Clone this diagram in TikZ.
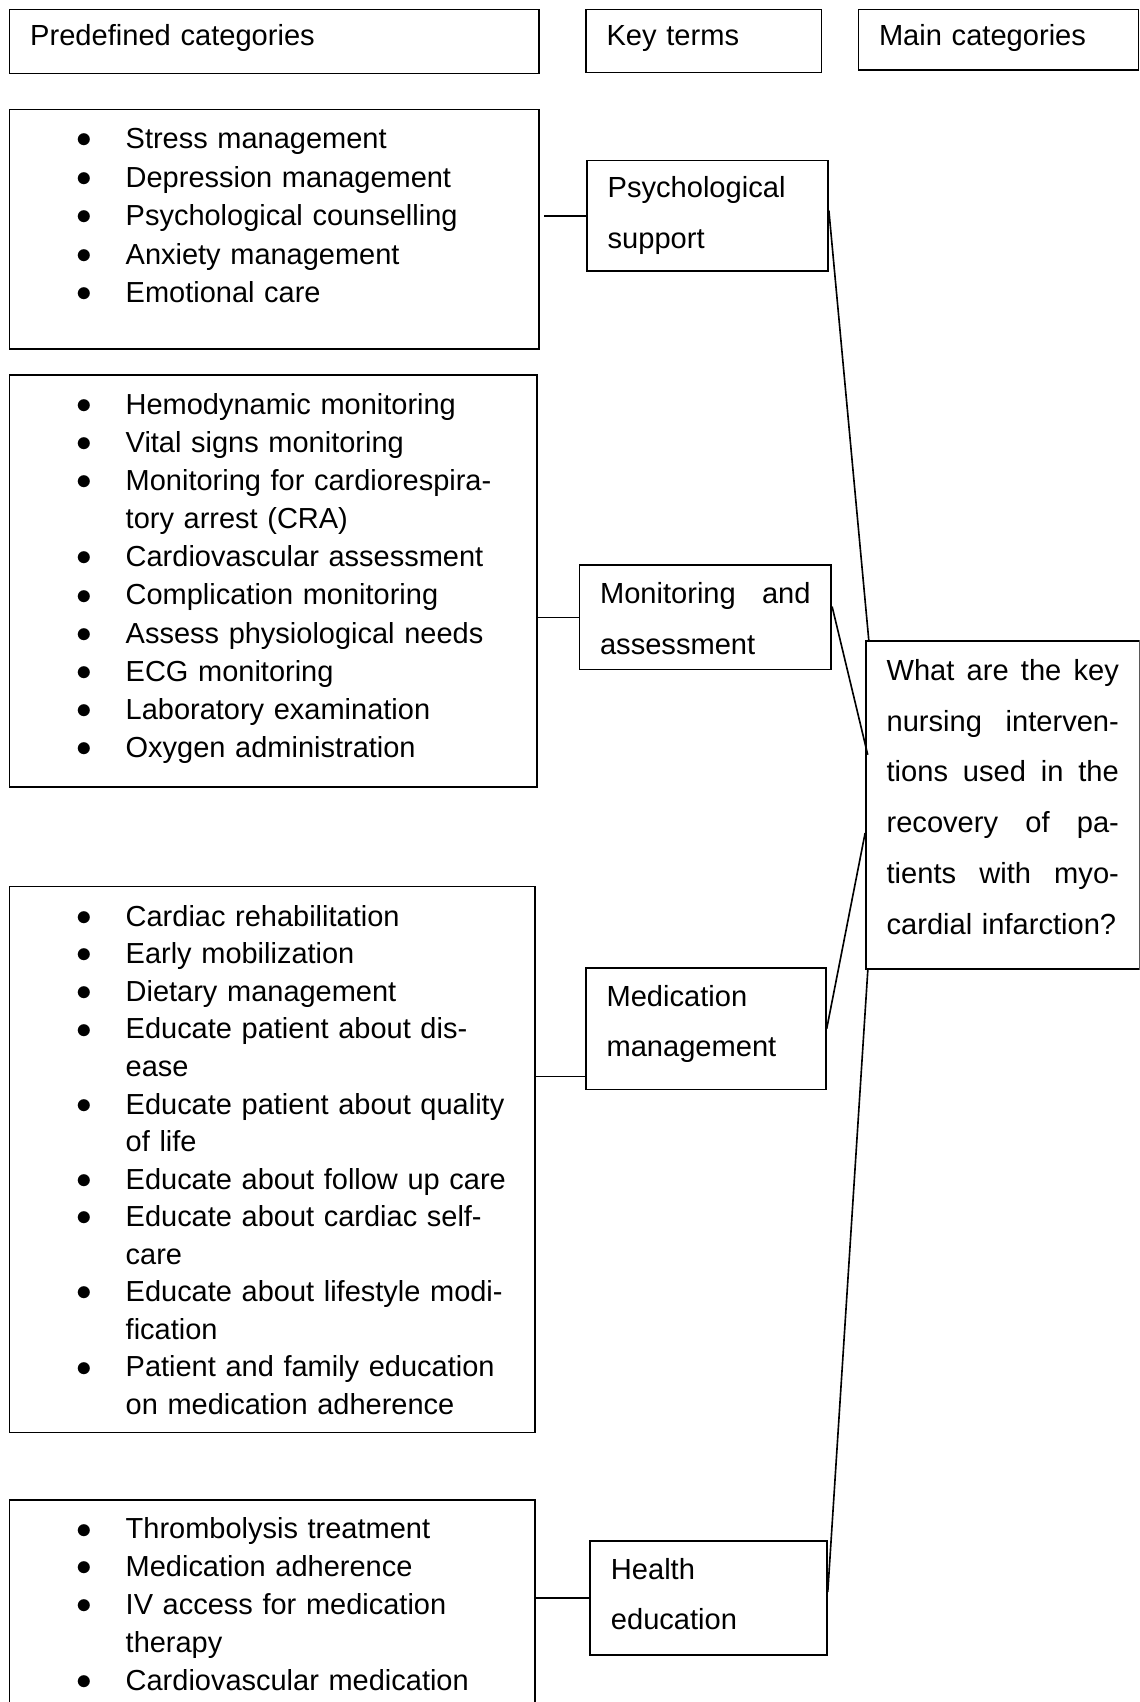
\documentclass[tikz,border=0pt]{standalone}
\usepackage{fontspec}
\setmainfont{Liberation Sans}
\tikzset{term node/.style={draw,line width=0.8pt,anchor=north west,inner xsep=9.5pt,inner ysep=0pt,align=left,font=\fontsize{13.4}{23.4}\selectfont},
         list node/.style={draw,line width=0.8pt,anchor=north west,inner sep=0pt,align=left,font=\fontsize{13.35}{#1}\selectfont},
         link/.style={draw,line width=0.75pt} }
\newcommand{\bul}{\hspace*{30.7pt}\makebox[22.8pt][l]{\raisebox{0.4pt}{$\bullet$}}}
\newcommand{\cont}{\hspace*{53.5pt}}

\begin{document}
\begin{tikzpicture}[x=0.5pt,y=-0.5pt]
  \useasboundingbox (0,0) rectangle (1050,1568);
  \clip (0,0) rectangle (1050,1568);

  % column heads
  \node[term node, text width=225pt, text height=16.75pt, text depth=12.75pt] (pre) at (8,8) {Predefined categories};
  \node[term node, text width=89.5pt, text height=16.75pt, text depth=12.25pt] (key) at (539,8) {Key terms};
  \node[term node, text width=110pt, text height=16.75pt, text depth=11.25pt] (maincat) at (790,8) {Main categories};

  % predefined categories
  \node[list node=17.75pt, text width=244pt, text height=18pt, text depth=92.5pt] (psylist) at (8,100) {
    \bul Stress management\\
    \bul Depression management\\
    \bul Psychological counselling\\
    \bul Anxiety management\\
    \bul Emotional care};
  \node[list node=17.55pt, text width=243pt, text height=18pt, text depth=171.5pt] (monlist) at (8,345) {
    \bul Hemodynamic monitoring\\
    \bul Vital signs monitoring\\
    \bul Monitoring for cardiorespira-\\
    \cont tory arrest (CRA)\\
    \bul Cardiovascular assessment\\
    \bul Complication monitoring\\
    \bul Assess physiological needs\\
    \bul ECG monitoring\\
    \bul Laboratory examination\\
    \bul Oxygen administration};
  \node[list node=17.3pt, text width=242pt, text height=18.25pt, text depth=233.25pt] (medlist) at (8,816) {
    \bul Cardiac rehabilitation\\
    \bul Early mobilization\\
    \bul Dietary management\\
    \bul Educate patient about dis-\\
    \cont ease\\
    \bul Educate patient about quality\\
    \cont of life\\
    \bul Educate about follow up care\\
    \bul Educate about cardiac self-\\
    \cont care\\
    \bul Educate about lifestyle modi-\\
    \cont fication\\
    \bul Patient and family education\\
    \cont on medication adherence};
  \node[list node=17.4pt, text width=242pt, text height=18pt, text depth=100pt] (edulist) at (8,1381) {
    \bul Thrombolysis treatment\\
    \bul Medication adherence\\
    \bul IV access for medication\\
    \cont therapy\\
    \bul Cardiovascular medication};

  % key terms
  \node[term node, text width=92pt, text height=17pt, text depth=34pt] (psy) at (540,147) {Psychological\\support};
  \node[term node, text width=97pt, text height=17.5pt, text depth=30.5pt] (mon) at (533,520) {Monitoring \hfill and\\assessment};
  \node[term node, text width=91.5pt, text height=17.5pt, text depth=38.5pt] (med) at (539,891) {Medication\\management};
  \node[term node, text width=90pt, text height=17.5pt, text depth=35pt] (edu) at (543,1419) {Health\\education};

  % main category
  \node[term node, text width=107pt, text height=18pt, text depth=133pt] (question) at (797,590) {What \hfill are \hfill the \hfill key\\
    nursing \hfill interven-\\
    tions \hfill used \hfill in \hfill the\\
    recovery \hfill of \hfill pa-\\
    tients \hfill with \hfill myo-\\
    cardial infarction?};

  \coordinate (medin) at ([yshift=6.5pt]med.south west);

  \path
    (psy.west) edge [link, shorten >=2pt] (psy.west -| psylist.east)
    (mon.west) edge [link] (mon.west -| monlist.east)
    (medin) edge [link] (medin -| medlist.east)
    (edu.west) edge [link] (edu.west -| edulist.east)

    ([yshift=2.5pt]psy.east) edge [link] ([xshift=1.7pt]question.north west)
    ([yshift=5pt]mon.east) edge [link] ([xshift=1.2pt,yshift=23.25pt]question.west)
    (med.east) edge [link] ([yshift=-12.8pt]question.west)
    ([yshift=2.85pt]edu.east) edge [link] ([xshift=1.25pt]question.south west)
    ;
\end{tikzpicture}
\end{document}
